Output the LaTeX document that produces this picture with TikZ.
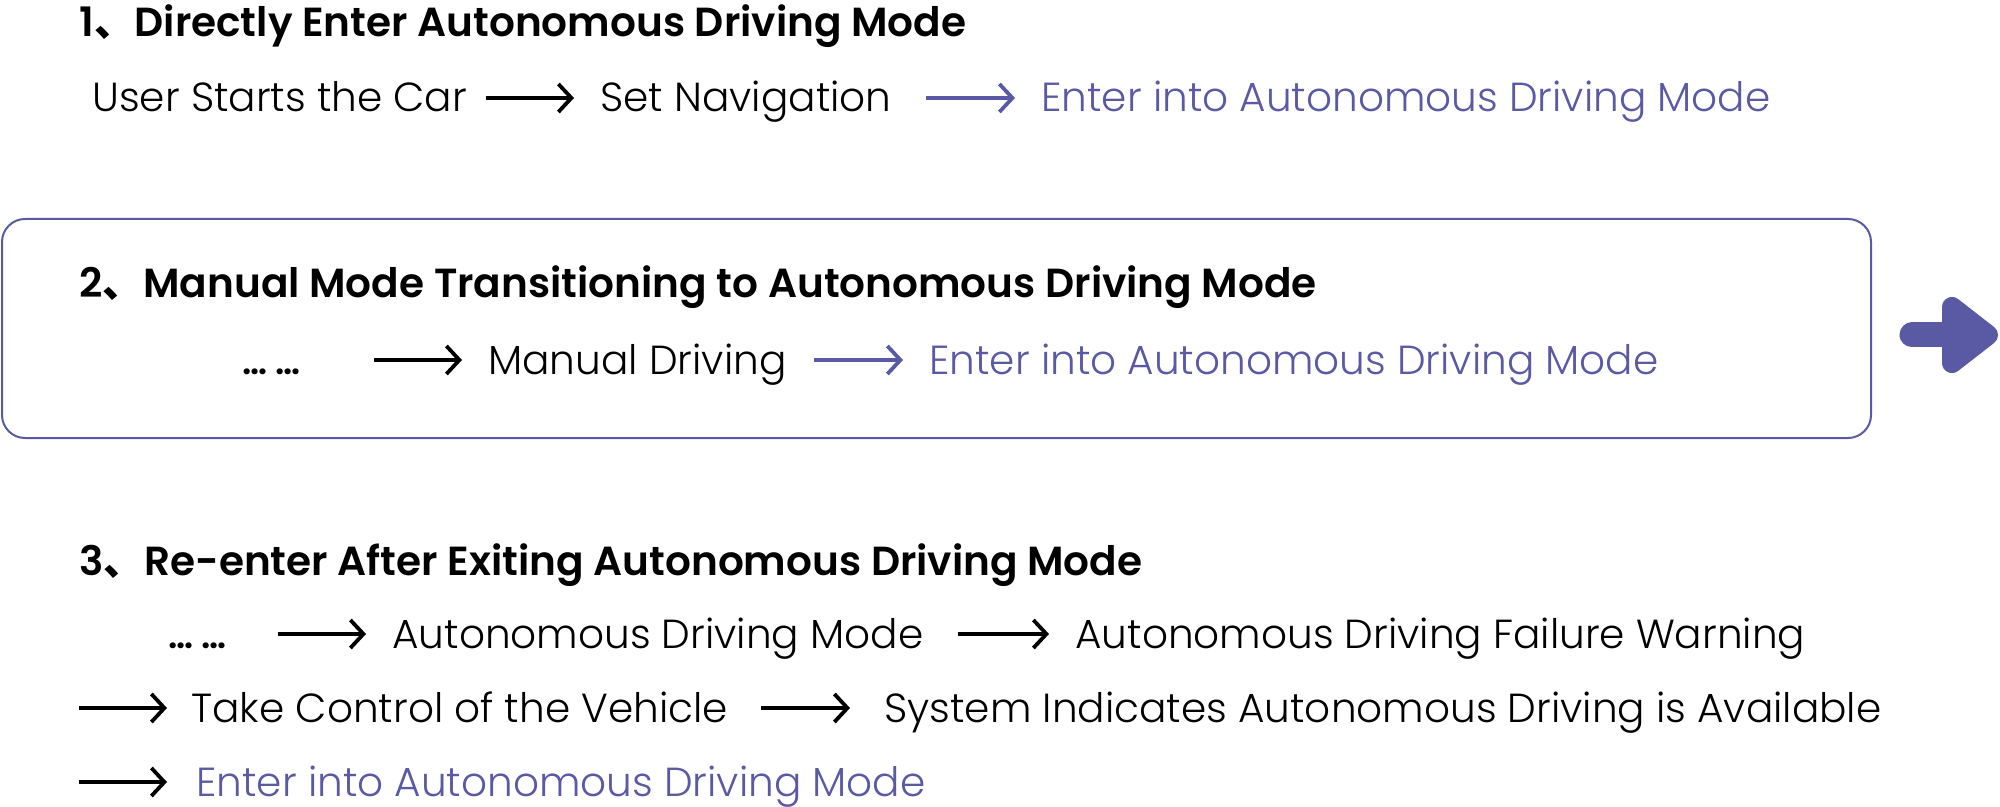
\documentclass[tikz,border=0pt]{standalone}
\usepackage{fontspec}
\setmainfont{Poppins}[UprightFont=* Light, BoldFont=* SemiBold]
\newfontfamily\cjk{Noto Sans CJK SC}
\usetikzlibrary{arrows.meta}
\definecolor{accent}{RGB}{90,89,163}

\begin{document}
\begin{tikzpicture}[x=0.5pt,y=-0.5pt]
\tikzset{
  heading/.style={anchor=base west,inner sep=0pt,font=\fontsize{20.3}{24}\selectfont\bfseries},
  steptext/.style={anchor=base west,inner sep=0pt,text height=14pt,text depth=0pt,font=\fontsize{20.3}{24}\selectfont},
  goaltext/.style={steptext,text=accent},
  dotstext/.style={steptext,font=\fontsize{18}{22}\selectfont\bfseries},
  flow/.style={-{Straight Barb[length=6.5pt,width=14pt]},line width=1.9pt,shorten >=13pt},
  goalflow/.style={flow,draw=accent}
}
\useasboundingbox (0,0) rectangle (2000,807);
% section 1
\node[heading] (h_one) at (79,37) {1{\cjk 、}Directly Enter Autonomous Driving Mode};
\node[steptext] (n_start) at (92,112) {User Starts the Car};
\node[steptext] (n_nav) at (600,112) {Set Navigation};
\node[goaltext] (n_goal1) at (1041,112) {Enter into Autonomous Driving Mode};
\coordinate (t_a1) at (486,98);
\coordinate (t_a2) at (926,98);
\draw[flow] (t_a1) -- (n_nav.west);
\draw[goalflow] (t_a2) -- (n_goal1.west);
% section 2
\draw[accent,line width=1pt,rounded corners=11.5pt] (2,219) rectangle (1871,438);
\node[heading] (h_two) at (79,298) {2{\cjk 、}Manual Mode Transitioning to Autonomous Driving Mode};
\node[dotstext] (n_dots2) at (242,374) {… …};
\node[steptext] (n_manual) at (488,374) {Manual Driving};
\node[goaltext] (n_goal2) at (929,374) {Enter into Autonomous Driving Mode};
\coordinate (t_b1) at (374,360);
\coordinate (t_b2) at (814,360);
\draw[flow] (t_b1) -- (n_manual.west);
\draw[goalflow] (t_b2) -- (n_goal2.west);
% next arrow
\draw[accent,line width=12.5pt,line cap=round] (1912,335) -- (1960,335);
\filldraw[accent,line width=10pt,line join=round] (1952,307) -- (1988,335) -- (1952,363) -- cycle;
% section 3
\node[heading] (h_three) at (79,575) {3{\cjk 、}Re-enter After Exiting Autonomous Driving Mode};
\node[dotstext] (n_dots3) at (168,648) {… …};
\node[steptext] (n_auto) at (392,648) {Autonomous Driving Mode};
\node[steptext] (n_fail) at (1075,648) {Autonomous Driving Failure Warning};
\node[steptext] (n_take) at (191,722) {Take Control of the Vehicle};
\node[steptext] (n_avail) at (884,722) {System Indicates Autonomous Driving is Available};
\node[goaltext] (n_goal3) at (196,796) {Enter into Autonomous Driving Mode};
\coordinate (t_c1) at (278,634);
\coordinate (t_c2) at (958,634);
\coordinate (t_c3) at (79,708);
\coordinate (t_c4) at (761,708);
\coordinate (t_c5) at (79,782);
\draw[flow] (t_c1) -- (n_auto.west);
\draw[flow] (t_c2) -- (n_fail.west);
\draw[flow,shorten >=12pt] (t_c3) -- (n_take.west);
\draw[flow,shorten >=17pt] (t_c4) -- (n_avail.west);
\draw[flow,shorten >=14.5pt] (t_c5) -- (n_goal3.west);
\end{tikzpicture}
\end{document}
